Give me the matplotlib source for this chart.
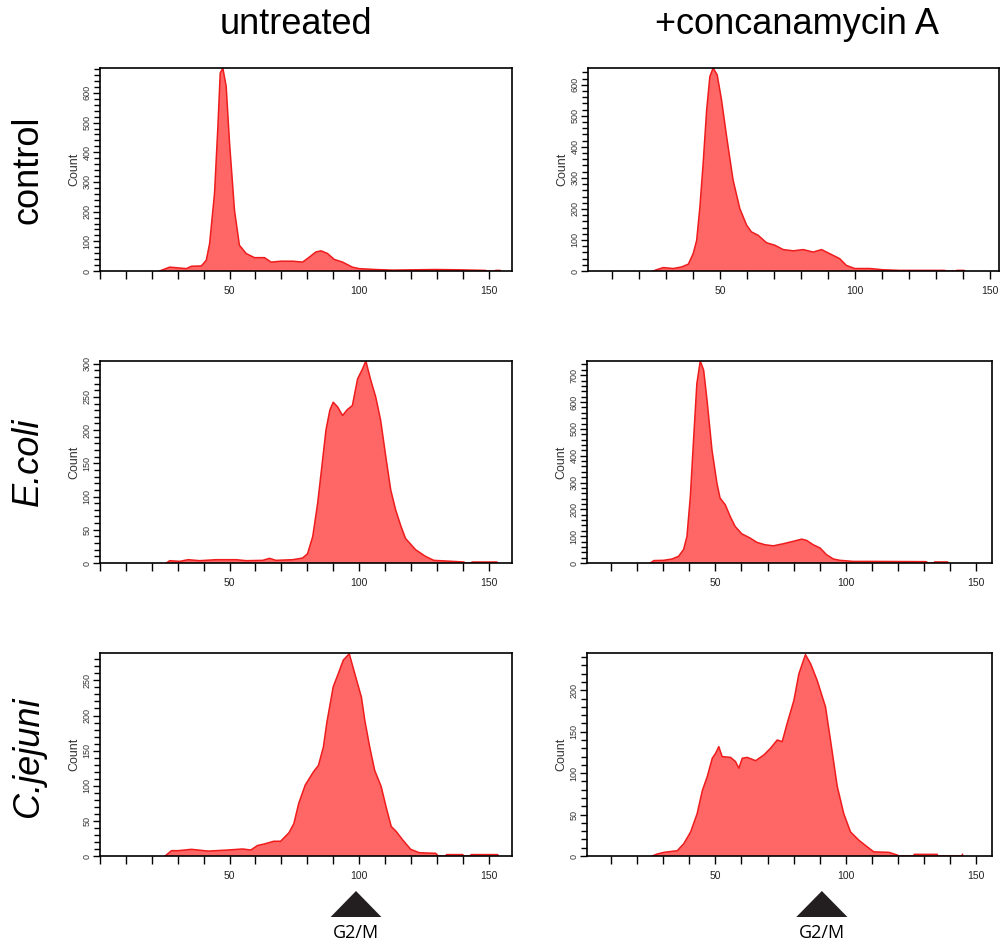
import matplotlib
matplotlib.use("Agg")
import matplotlib.pyplot as plt
from matplotlib.patches import Polygon
from matplotlib.transforms import blended_transform_factory
from matplotlib.ticker import MultipleLocator, FuncFormatter

plt.rcParams['font.family'] = ['Liberation Sans', 'DejaVu Sans']

col_titles = ["untreated", "+concanamycin A"]
row_titles = ["control", "E.coli", "C.jejuni"]
row_italic = [False, True, True]

# ---- data (DNA content vs count) ----
ctrl_untr_x = [23, 26.9, 29.5, 33.3, 35.3, 39.1, 41, 42.3, 44.2, 45.5, 46.4, 47.4, 48.7, 50, 51.9, 53.8,
               56.4, 59.6, 63.5, 66, 69.9, 74.4, 78.2, 80.8, 83.3, 85.3, 87.8, 90.4, 93.6, 97.4, 100,
               106.4, 112.8, 129.5, 138.5, 148.7, 149.5, 152.4, 152.6, 154.5, 154.7]
ctrl_untr_y = [0, 13, 11, 8, 16, 17, 36, 92, 262, 487, 667, 684, 622, 431, 205, 87,
               59, 45, 45, 30, 33, 33, 30, 47, 64, 68, 59, 39, 30, 13, 8,
               5, 3, 5, 4, 2, 0, 0, 2, 2, 0]

ctrl_conA_x = [25.3, 26.5, 29, 32.7, 35.8, 38.3, 40.1, 41.4, 42.6, 43.8, 45.1, 46.3, 47.5, 49, 50.6,
               52.5, 54.9, 57.4, 59.9, 61.7, 64.2, 67.3, 70.4, 73.5, 77.2, 80.9, 84.6, 87.7, 90.7,
               94.4, 96.9, 100, 105.6, 110.5, 116.7, 133.3, 134, 137.6, 137.8, 140.6, 140.8]
ctrl_conA_y = [0, 4, 11, 8, 13, 22, 56, 99, 207, 347, 519, 627, 654, 632, 552,
               433, 293, 201, 148, 126, 115, 91, 83, 69, 65, 69, 61, 69, 56,
               40, 18, 8, 8, 4, 2, 2, 0, 0, 2, 2, 0]

ecoli_untr_x = [25.6, 26.9, 30.8, 34, 38.5, 44.9, 52.6, 56.4, 62.8, 65.4, 67.9, 74.4, 78.2, 80.1, 82.1,
                84, 85.9, 87.2, 88.7, 90, 91.7, 93.6, 95.5, 97.4, 99.4, 101.3, 102.6, 104.5, 106.4,
                108.3, 110.3, 112.2, 114.1, 116, 117.9, 121.8, 125.6, 128.8, 135.9, 140.4, 141,
                143.4, 143.6, 153.2, 153.4]
ecoli_untr_y = [0, 3.5, 2.5, 5, 3.5, 5, 5, 3.5, 4, 7, 4, 5, 7.5, 14, 40,
                90, 155, 200, 230, 242, 235, 222, 231, 237, 277, 292, 304, 275, 250,
                215, 160, 110, 80, 57, 37, 20, 10, 4, 2.5, 1.5, 0,
                0, 1.5, 1.5, 0]

ecoli_conA_x = [25.1, 26.4, 30.2, 33.4, 35.9, 37.8, 39.1, 40.4, 41.7, 42.9, 44.2, 45.5, 46.8, 48.7,
                50.6, 51.8, 53.8, 55.7, 57.6, 60.1, 63.3, 65.9, 69, 72.2, 76.1, 79.9, 83.1, 85,
                87.5, 90.1, 92.6, 95.2, 97.7, 102.8, 110.4, 130.8, 131.4, 133.8, 134, 139, 139.2]
ecoli_conA_y = [0, 9, 10, 15, 25, 50, 99, 248, 471, 669, 753, 719, 607, 421,
                297, 242, 217, 173, 136, 109, 93, 77, 68, 64, 72, 81, 89, 84,
                68, 56, 31, 15, 10, 6, 6, 5, 0, 0, 4, 4, 0]

cjej_untr_x = [25.1, 27.6, 30.2, 35.3, 41.7, 49.3, 55, 58.2, 60.8, 63.3, 67.1, 69.7, 72.9, 74.8, 76.7,
               79.2, 82.4, 84.3, 86.2, 87.5, 90, 92, 93.9, 96.2, 98.3, 100.9, 102.2, 104.1, 106,
               108.5, 110.4, 112.4, 114.3, 116.8, 119.9, 123.2, 129.6, 130.5,
               133.5, 133.7, 140, 140.2, 143, 143.2, 153.5, 153.7]
cjej_untr_y = [0, 7.6, 7.6, 9.5, 7, 8.5, 10, 8.5, 15, 17, 21, 21, 33, 46, 75,
               101, 120, 129, 155, 189, 241, 260, 279, 288, 260, 226, 193, 155, 122,
               99, 70, 42, 35, 23, 9.5, 4.7, 3.8, 0,
               0, 2, 2, 0, 0, 2, 2, 0]

cjej_conA_x = [25.8, 27.7, 30.3, 35.4, 37.9, 40.5, 43, 45, 46.9, 48.8, 50.1, 51.3, 52.6, 55.8, 57.7,
               59, 60.3, 62.2, 65.4, 68.6, 71.1, 73.7, 75.6, 77.5, 80.1, 82, 84.5, 86.5, 89, 92.2,
               94.1, 96.7, 99.2, 101.8, 105, 108.2, 110.7, 116.5, 119.7, 120.3,
               126, 126.2, 135, 135.2, 144.5, 144.7]
cjej_conA_y = [0, 2.4, 4.4, 6.4, 15, 29, 51, 79, 96, 118, 124, 132, 120, 119, 114,
               106, 118, 119, 115, 122, 130, 140, 138, 160, 188, 220, 243, 232, 212, 180,
               140, 84, 51, 29, 19, 11, 5, 4.4, 1.2, 0,
               0, 2, 2, 0, 0, 2]

series = [[(ctrl_untr_x, ctrl_untr_y), (ctrl_conA_x, ctrl_conA_y)],
          [(ecoli_untr_x, ecoli_untr_y), (ecoli_conA_x, ecoli_conA_y)],
          [(cjej_untr_x, cjej_untr_y), (cjej_conA_x, cjej_conA_y)]]

y_max = [[684, 654], [304, 753], [289, 245]]
y_major = [[100, 100], [50, 100], [50, 50]]
x_lims = [[(0, 159), (1.1, 153.5)], [(0, 159), (0.8, 156)], [(0, 159), (0.8, 156)]]
x_labels = [50, 100, 150]
g2m_x = [98.8, 90.8]

FACE = '#ff6666'
EDGE = '#ee1c1c'

fig = plt.figure(figsize=(10, 9.46), dpi=100)
W, H = 1000.0, 946.0

col_px = [(100, 512), (587, 992)]
row_px = [(68, 271), (361, 563), (653, 856)]

axes = [[None, None] for _ in range(3)]
for r in range(3):
    for c in range(2):
        l, rr = col_px[c]
        if r == 0 and c == 1:
            l, rr = 588, 999
        t, b = row_px[r]
        ax = fig.add_axes([l / W, 1 - b / H, (rr - l) / W, (b - t) / H])
        axes[r][c] = ax
        xs, ys = series[r][c]
        ax.fill_between(xs, ys, 0, facecolor=FACE, edgecolor='none', linewidth=0)
        ax.plot(xs, ys, color=EDGE, linewidth=1.1)
        ax.set_xlim(*x_lims[r][c])
        ax.set_ylim(0, y_max[r][c])
        ax.xaxis.set_major_locator(MultipleLocator(10))
        ax.xaxis.set_major_formatter(FuncFormatter(
            lambda v, p: str(int(round(v))) if int(round(v)) in x_labels else ''))
        ax.tick_params(axis='x', direction='out', length=6, width=1, labelsize=7.5,
                       labelcolor='#222222', pad=5)
        ax.yaxis.set_major_locator(MultipleLocator(y_major[r][c]))
        ax.yaxis.set_minor_locator(MultipleLocator(y_major[r][c] / 5))
        ax.tick_params(axis='y', which='major', direction='out', length=5, width=1,
                       labelsize=6.5, labelcolor='#333333', pad=1)
        ax.tick_params(axis='y', which='minor', direction='out', length=4, width=1)
        for lab in ax.get_yticklabels():
            lab.set_rotation(90)
            lab.set_va('center')
        ax.set_ylabel('Count', fontsize=9, labelpad=2, color='#333333')
        for s in ax.spines.values():
            s.set_linewidth(1.2)
            s.set_color('black')

# column titles
fig.text(296 / W, 1 - 24 / H, col_titles[0], fontsize=26, ha='center', va='center')
fig.text(797 / W, 1 - 24 / H, col_titles[1], fontsize=26, ha='center', va='center')

# row titles
row_centers = [170, 462, 757]
for r in range(3):
    fig.text(28 / W, 1 - row_centers[r] / H, row_titles[r], fontsize=26, rotation=90,
             ha='center', va='center', style='italic' if row_italic[r] else 'normal')

# G2/M markers
for c in range(2):
    ax = axes[2][c]
    tr = blended_transform_factory(ax.transData, fig.transFigure)
    gx = g2m_x[c]
    half = 9.8
    tri = Polygon([[gx - half, 1 - 917 / H], [gx + half, 1 - 917 / H], [gx, 1 - 891 / H]],
                  closed=True, transform=tr, facecolor='#231f20', edgecolor='none', clip_on=False)
    fig.add_artist(tri)
    fig.text(gx, 1 - 933 / H, 'G2/M', transform=tr, fontsize=13, ha='center', va='center',
             family=['Open Sans', 'DejaVu Sans'])

fig.savefig('out.png', dpi=100)
